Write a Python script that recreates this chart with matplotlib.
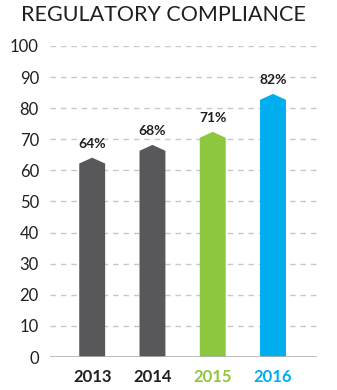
import matplotlib
matplotlib.use("Agg")
import matplotlib.pyplot as plt

# chart data
years = ["2013", "2014", "2015", "2016"]
bar_tops = [64.1, 68.2, 72.4, 84.6]
value_labels = ["64%", "68%", "71%", "82%"]
bar_colors = ["#58585a", "#58585a", "#8dc63f", "#00aeef"]
label_colors = ["#231f20", "#231f20", "#8dc63f", "#00aeef"]
y_ticks = [0, 10, 20, 30, 40, 50, 60, 70, 80, 90, 100]

plt.rcParams["font.family"] = ["Lato", "DejaVu Sans"]

fig = plt.figure(figsize=(3.37, 3.90), dpi=100)
ax = fig.add_axes([50 / 337, 33 / 390, 267 / 337, 311 / 390])

width = 0.43
tip = 1.9
for i, top in enumerate(bar_tops):
    xs = [i - width / 2, i - width / 2, i, i + width / 2, i + width / 2]
    ys = [0, top - tip, top, top - tip, 0]
    ax.fill(xs, ys, color=bar_colors[i], zorder=3, linewidth=0)
    ax.annotate(value_labels[i], (i, top), xytext=(0, 10), textcoords="offset points",
                ha="center", va="center", fontsize=10, fontweight="bold", color="#231f20")

ax.set_xlim(-0.70, 3.73)
ax.set_ylim(0, 100)
ax.set_yticks(y_ticks)
ax.set_yticklabels([str(t) for t in y_ticks], fontsize=12, color="#231f20")
ax.set_xticks(range(len(years)))
ax.set_xticklabels(years, fontsize=12, fontweight="bold")
for lbl, c in zip(ax.get_xticklabels(), label_colors):
    lbl.set_color(c)

ax.tick_params(axis="both", length=0)
ax.tick_params(axis="y", pad=8)
ax.tick_params(axis="x", pad=9)
for s in ax.spines.values():
    s.set_visible(False)
for t in y_ticks[1:]:
    ax.axhline(t, color="#c8c8c8", linestyle=(0, (4, 3.5)), linewidth=1, zorder=1)
ax.axhline(0, color="#b0b0b0", linewidth=1.2, zorder=4)

fig.text(163 / 337, 1 - 15 / 390, "REGULATORY COMPLIANCE", ha="center", va="center",
         fontsize=15.5, color="#231f20")

fig.savefig("out.png", dpi=100)
